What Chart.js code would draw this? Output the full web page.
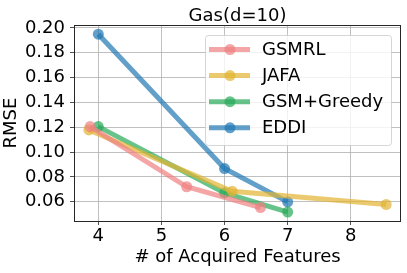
<!DOCTYPE html>
<html>
<head>
<meta charset="utf-8">
<script src="https://cdn.jsdelivr.net/npm/chart.js@4"></script>
<style>
  html, body { margin: 0; padding: 0; background: #fff; }
  #wrap { width: 407px; height: 273px; }
</style>
</head>
<body>
<div id="wrap"><canvas id="chart" width="407" height="273"></canvas></div>
<script>
const chartTitle = "Gas(d=10)";
const xTitle = "# of Acquired Features";
const yTitle = "RMSE";
const xTicks = [4, 5, 6, 7, 8];
const yTicks = [0.06, 0.08, 0.10, 0.12, 0.14, 0.16, 0.18, 0.20];

const seriesNames = ["GSMRL", "JAFA", "GSM+Greedy", "EDDI"];
const seriesColors = [
  "rgba(240,128,128,0.7)",
  "rgba(226,180,50,0.7)",
  "rgba(40,170,90,0.7)",
  "rgba(31,119,180,0.7)"
];

// x = number of acquired features, y = RMSE
const gsmrlX = [3.87, 5.40, 6.57];
const gsmrlY = [0.1205, 0.072, 0.0552];
const jafaX = [3.85, 6.12, 8.56];
const jafaY = [0.1178, 0.0684, 0.0577];
const greedyX = [4, 6, 7];
const greedyY = [0.1205, 0.0671, 0.0516];
const eddiX = [4, 6, 7];
const eddiY = [0.195, 0.0867, 0.0598];

const seriesX = [gsmrlX, jafaX, greedyX, eddiX];
const seriesY = [gsmrlY, jafaY, greedyY, eddiY];

const FONT = "'DejaVu Sans', sans-serif";

const datasets = seriesNames.map((name, i) => ({
  label: name,
  data: seriesX[i].map((x, j) => ({ x: x, y: seriesY[i][j] })),
  showLine: true,
  borderColor: seriesColors[i],
  backgroundColor: seriesColors[i],
  borderWidth: 5,
  pointRadius: 5.5,
  pointBorderWidth: 0,
  pointHoverRadius: 5.5
}));

// frame, title and in-plot legend like matplotlib
const extras = {
  id: "extras",
  afterDraw(chart) {
    const ctx = chart.ctx;
    const a = chart.chartArea;
    ctx.save();
    ctx.strokeStyle = "#262626";
    ctx.lineWidth = 1;
    ctx.strokeRect(a.left + 0.5, a.top + 0.5, a.right - a.left - 1, a.bottom - a.top);

    ctx.fillStyle = "#000";
    ctx.font = "18px " + FONT;
    ctx.textAlign = "center";
    ctx.textBaseline = "alphabetic";
    ctx.fillText(chartTitle, (a.left + a.right) / 2, 20.5);

    // legend box
    const bx = 205, by = 35, bw = 186, bh = 110;
    ctx.fillStyle = "rgba(255,255,255,0.8)";
    ctx.strokeStyle = "rgba(204,204,204,0.8)";
    ctx.lineWidth = 1;
    ctx.beginPath();
    if (ctx.roundRect) ctx.roundRect(bx + 0.5, by + 0.5, bw, bh, 3);
    else ctx.rect(bx + 0.5, by + 0.5, bw, bh);
    ctx.fill();
    ctx.stroke();

    ctx.font = "18px " + FONT;
    ctx.textAlign = "left";
    ctx.textBaseline = "middle";
    seriesNames.forEach((name, i) => {
      const y = 49.5 + i * 26.1;
      ctx.strokeStyle = seriesColors[i];
      ctx.lineWidth = 5;
      ctx.beginPath();
      ctx.moveTo(209, y);
      ctx.lineTo(250, y);
      ctx.stroke();
      ctx.fillStyle = seriesColors[i];
      ctx.beginPath();
      ctx.arc(230, y, 5.5, 0, Math.PI * 2);
      ctx.fill();
      ctx.fillStyle = "#000";
      ctx.fillText(name, 262, y + 1);
    });
    ctx.restore();
  }
};

new Chart(document.getElementById("chart"), {
  type: "scatter",
  data: { datasets: datasets },
  options: {
    responsive: false,
    animation: false,
    events: [],
    layout: { padding: { left: 0, right: 6, top: 25, bottom: 0 } },
    plugins: {
      legend: { display: false },
      title: { display: false },
      tooltip: { enabled: false }
    },
    scales: {
      x: {
        type: "linear",
        min: 3.615,
        max: 8.795,
        afterBuildTicks: scale => { scale.ticks = xTicks.map(v => ({ value: v })); },
        afterFit: scale => { scale.height = 52; },
        grid: { color: "#b0b0b0", lineWidth: 0.8, tickColor: "#262626", tickLength: 4, drawTicks: true },
        border: { display: false },
        ticks: { color: "#000", font: { family: FONT, size: 18 }, padding: 1, maxRotation: 0 },
        title: { display: true, text: xTitle, color: "#000", font: { family: FONT, size: 18 }, padding: { top: 0, bottom: 5 } }
      },
      y: {
        type: "linear",
        min: 0.0444,
        max: 0.2024,
        afterBuildTicks: scale => { scale.ticks = yTicks.map(v => ({ value: v })); },
        afterFit: scale => { scale.width = 74; },
        grid: { color: "#b0b0b0", lineWidth: 0.8, tickColor: "#262626", tickLength: 4, drawTicks: true },
        border: { display: false },
        ticks: { color: "#000", font: { family: FONT, size: 18 }, padding: 5, callback: v => v.toFixed(2) },
        title: { display: true, text: yTitle, color: "#000", font: { family: FONT, size: 18 }, padding: { top: 1, bottom: 0 } }
      }
    }
  },
  plugins: [extras]
});
</script>
</body>
</html>
